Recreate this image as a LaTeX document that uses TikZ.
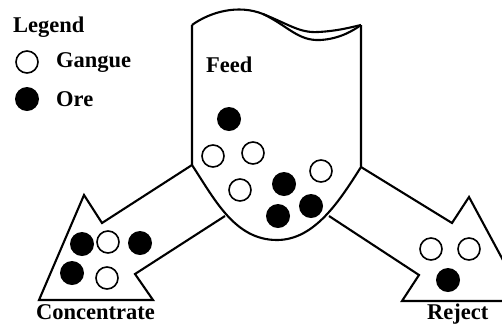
\documentclass[tikz,border=0pt]{standalone}
\usepackage{fontspec}
\setmainfont{Liberation Serif}
\begin{document}
\begin{tikzpicture}[x=1pt,y=-1pt,
  outline/.style={line width=2.1pt,line join=miter},
  gangue/.style={circle,draw,line width=1.6pt,minimum size=22pt,inner sep=0pt},
  ore/.style={circle,fill,minimum size=24pt,inner sep=0pt},
  lbl/.style={font=\bfseries\fontsize{22.5}{26}\selectfont,anchor=base west,inner sep=0pt}]
\useasboundingbox (0,0) rectangle (502,325);
\begin{scope}
\clip (0,0) rectangle (502,325);
% container
\draw[outline] (192,25) .. controls (210,12) and (238,4) .. (263,14)
  .. controls (288,26) and (298,41) .. (320,40)
  .. controls (340,39) and (354,30) .. (361,25);
\draw[outline] (263,14) .. controls (290,25) and (300,33) .. (318,32)
  .. controls (338,31) and (352,27) .. (361,25);
\draw[outline] (192,25) -- (192,165)
  .. controls (215,200) and (235,240) .. (277,240)
  .. controls (315,240) and (340,200) .. (361,167) -- (361,25);
% left arrow
\draw[outline] (192,165) -- (102,223) -- (84,195) -- (39,300) -- (153,300) -- (135,274) -- (225,216);
% right arrow
\draw[outline] (361,167) -- (452,223) -- (469,197) -- (525,301) -- (402,301) -- (419,275) -- (329,216);
\end{scope}
% legend
\node[lbl] (legend) at (13,32) {Legend};
\node[gangue] (lg) at (27,62) {};
\node[lbl] (lgt) at (56,67) {Gangue};
\node[ore] (lo) at (27,99) {};
\node[lbl] (lot) at (56,106) {Ore};
% labels
\node[lbl] (feed) at (206,72) {Feed};
\node[lbl] (conc) at (36,319) {Concentrate};
\node[lbl] (rej) at (427,319) {Reject};
% feed particles
\node[ore] (f1) at (229,119) {};
\node[gangue] (f2) at (213,156) {};
\node[gangue] (f3) at (253,153) {};
\node[gangue] (f4) at (321,171) {};
\node[gangue] (f5) at (240,190) {};
\node[ore] (f6) at (284,184) {};
\node[ore] (f7) at (311,206) {};
\node[ore] (f8) at (278,216) {};
% concentrate particles
\node[ore] (c1) at (82,244) {};
\node[gangue] (c2) at (108,242) {};
\node[ore] (c3) at (140,243) {};
\node[ore] (c4) at (72,273) {};
\node[gangue] (c5) at (107,278) {};
% reject particles
\node[gangue] (r1) at (431,249) {};
\node[gangue] (r2) at (469,249) {};
\node[ore] (r3) at (448,280) {};
\end{tikzpicture}
\end{document}
